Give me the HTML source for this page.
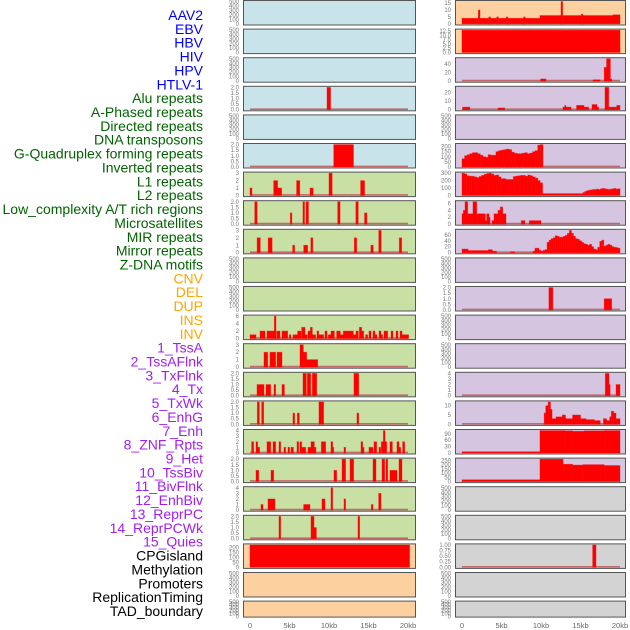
<!DOCTYPE html>
<html><head><meta charset="utf-8"><style>
html,body{margin:0;padding:0;background:#fff;}
svg{display:block;font-family:"Liberation Sans",sans-serif;}
</style></head><body>
<svg id="chart" width="630" height="630" viewBox="0 0 630 630" xmlns="http://www.w3.org/2000/svg"></svg>
<script>
// ---- track labels ----
const labelNames = ["AAV2","EBV","HBV","HIV","HPV","HTLV-1","Alu repeats","A-Phased repeats","Directed repeats","DNA transposons","G-Quadruplex forming repeats","Inverted repeats","L1 repeats","L2 repeats","Low_complexity A/T rich regions","Microsatellites","MIR repeats","Mirror repeats","Z-DNA motifs","CNV","DEL","DUP","INS","INV","1_TssA","2_TssAFlnk","3_TxFlnk","4_Tx","5_TxWk","6_EnhG","7_Enh","8_ZNF_Rpts","9_Het","10_TssBiv","11_BivFlnk","12_EnhBiv","13_ReprPC","14_ReprPCWk","15_Quies","CPGisland","Methylation","Promoters","ReplicationTiming","TAD_boundary"];
const labelGroups = [6,13,5,15,5];
const groupColors = ["#0000ff","#006400","#ffa500","#a020f0","#000000"];
const xTickVals = [0,5,10,15,20];
const xTickLabels = ["0","5kb","10kb","15kb","20kb"];
const emptyTicks = [0,100,200,300,400,500];

// ---- panel data: segments [startKb, endKb, value] ----
const L3 = [[9.75,10.2,2]];
const L5 = [[10.6,13.1,2]];
const L6 = [[0,0.25,1],[3.0,3.5,2],[3.5,4.0,1],[5.9,6.3,2],[7.6,8.0,1],[10.0,10.4,3],[14.0,14.5,2]];
const L7 = [[0.6,0.9,2],[5.1,5.3,1],[6.7,6.9,2],[7.1,7.4,2],[11.1,11.4,2],[13.4,13.7,2],[14.5,14.8,1]];
const L8 = [[0.9,1.3,2],[2.3,2.8,2],[5.4,5.65,1],[6.8,7.3,1],[7.7,7.95,2],[13.2,13.5,2],[15.3,15.6,1],[16.3,16.6,3],[18.9,19.2,2]];
const L11 = [[0,0.76,1],[1.27,1.9,2],[2.15,3.08,2],[3.08,3.29,6],[3.38,3.8,2],[4.05,4.77,2],[4.98,5.19,1],[5.44,5.78,1],[5.78,6.03,1],[6.03,6.46,2],[6.54,6.96,3],[6.96,7.26,1],[7.34,7.64,2],[7.64,7.89,3],[7.89,8.31,1],[8.48,8.69,2],[8.69,9.32,1],[9.49,9.75,2],[9.92,10.25,1],[10.25,10.68,2],[10.97,11.43,2],[11.43,11.81,1],[11.81,13.08,2],[13.08,13.42,1],[13.42,13.71,2],[13.84,14.14,3],[14.14,14.39,2],[14.64,14.89,1],[15.06,15.32,2],[15.57,15.82,2],[15.82,16.08,1],[16.33,16.58,2],[16.58,16.79,1],[16.96,17.43,2],[17.85,18.1,2],[18.48,18.73,2],[18.99,19.24,2],[19.24,19.49,1],[19.49,20.08,1]];
const L12 = [[1.77,2.24,2],[2.53,3.25,2],[3.42,4.05,2],[6.33,6.75,3],[6.75,7.17,2],[7.17,8.57,1]];
const L13 = [[0.89,1.77,1],[2.03,2.62,1],[3.04,3.25,1],[4.05,4.35,1],[6.71,7.13,2],[7.26,7.68,2],[7.89,8.44,2],[13.16,13.76,2]];
const L14 = [[0.93,1.18,2],[1.48,1.73,2],[5.44,5.65,1],[5.99,6.24,1],[8.73,9.32,2],[13.54,13.76,1]];
const L15 = [[0.21,0.46,2],[0.76,0.97,2],[0.97,1.22,1],[2.15,2.62,2],[2.91,3.25,2],[3.67,3.88,2],[4.3,4.51,1],[4.81,5.02,1],[5.19,5.49,1],[5.95,6.16,2],[6.33,6.54,2],[6.54,7.05,1],[7.34,7.72,1],[7.72,8.14,2],[8.14,8.35,1],[9.03,9.58,2],[10.25,10.46,2],[10.46,10.6,1],[11.9,12.1,1],[14.05,14.26,2],[14.26,14.43,1],[15.06,15.57,1],[15.7,16.03,2],[16.33,16.54,1],[16.62,16.88,2],[16.88,17.09,4],[17.09,17.3,2],[17.72,18.02,2],[18.61,18.86,2],[18.86,19.07,1],[19.32,19.58,2]];
const L16 = [[0.76,1.1,1],[2.66,3.0,1],[10.63,10.97,1],[11.65,12.1,2],[12.66,13.12,2],[15.57,15.95,2],[16.71,17.05,2],[17.22,17.43,2],[17.72,18.61,1],[18.86,19.24,2]];
const L17 = [[1.39,1.65,1],[2.28,3.16,2],[6.79,7.59,1],[9.11,9.49,2],[10.25,10.46,4],[11.9,12.1,2],[15.36,15.57,1],[16.29,16.58,3]];
const L18 = [[3.67,3.88,2],[7.72,8.1,2],[8.1,8.4,1],[13.67,13.88,2]];
const L19 = [[0,20.2,225]];

const R0 = [[0,2.07,4],[2.07,2.28,10],[2.28,3.4,4],[3.4,3.6,5],[3.6,4.4,4],[4.4,4.6,5],[4.6,5.6,4],[5.6,5.8,5],[5.8,7.8,4],[7.8,8.0,5],[8.0,9.87,4],[9.87,12.53,6],[12.53,12.74,16],[12.74,15.1,6],[15.1,15.3,7],[15.3,19.1,6],[19.1,20.0,6.5]];
const R1 = [[0,20.0,13]];
const R2 = [[9.96,10.63,5],[16.58,17.47,3],[18.0,18.3,32],[18.3,18.6,52],[18.6,18.78,52],[18.78,18.95,5]];
const R3 = [[0.08,1.0,3],[4.56,5.4,2],[12.78,13.0,3],[13.0,13.16,5],[13.16,13.8,3],[14.5,15.44,5],[15.44,16.03,3],[16.46,17.09,6],[17.09,17.3,3],[18.1,18.57,26],[18.57,19.58,3],[19.58,20.0,5]];
const R5vals = [80,110,120,130,140,140,130,115,100,95,120,115,115,150,160,165,170,175,170,145,135,130,130,135,140,130,135,150,160,215,220];
const R6valsA = [300,290,265,260,258,250,240,255,270,285,295,300,290,270,275,250,225,225,215,215,215,255,260,265,270,270,260,275,265,250,235,200,170];
const R6valsB = [40,55,65,70,75,80,80,85,80,90,95,90,85,80,85,90,95,85,90];
const R7 = [[0,0.17,3],[0.17,0.38,4],[0.38,0.72,6.5],[0.72,1.39,3],[1.39,1.86,6.5],[1.86,2.95,3],[2.95,3.12,1],[3.12,3.42,3],[3.42,3.55,2],[3.8,4.05,1],[4.05,4.56,3],[4.56,4.85,4],[4.85,5.15,5],[5.15,5.57,3],[7.5,7.97,1],[8.52,10.0,1]];
const R8vals = [12,12,12,7,7,7,7,7,7,7,7,7,7,10,10,5,5,0,0,0,0,0,0,0,3,3,0,0,0,0,0,0,0,0,0,5,15,15,8,5,8,10,35,42,47,50,57,55,52,52,55,58,65,75,65,55,47,45,40,35,30,28,25,28,20,12,10,18,38,42,22,25,28,25,20,18,17,15];
const R10 = [[11.0,11.5,2],[18.0,18.95,1]];
const R13 = [[18.14,18.6,4],[18.6,18.75,2],[19.5,20.0,2]];
const R14 = [[10.4,10.6,6],[10.6,10.9,10],[10.9,11.2,12],[11.2,11.4,8],[11.4,11.9,3],[11.9,12.7,4],[12.7,13.1,5],[13.1,14.0,3],[14.0,15.0,5],[15.0,15.7,3],[15.7,16.75,2.5],[16.75,17.5,2],[17.9,18.3,3],[18.3,18.7,2],[18.7,18.9,4],[18.9,19.2,7],[19.2,19.5,6],[19.5,20.0,3]];
const R15 = [[0,9.87,5],[9.87,13.0,105],[13.0,14.0,104],[14.0,15.5,102],[15.5,18.0,104],[18.0,20.0,105]];
const R16 = [[0,9.87,20],[9.87,12.8,265],[12.8,14.0,205],[14.0,15.3,195],[15.3,18.0,200],[18.0,20.0,190]];
const R19 = [[16.54,16.96,1]];

function bins(vals, s, e){
  const w=(e-s)/vals.length; const out=[];
  vals.forEach((v,i)=>out.push([s+i*w, s+(i+1)*w, v]));
  return out;
}
const R5 = bins(R5vals,0,10.25);
const R6 = bins(R6valsA,0,10.2).concat([[10.2,15.3,25]]).concat(bins(R6valsB,15.3,20.0));
const R8 = bins(R8vals,0,20.0);

const BLUE="#c8e3ea", GREEN="#c8e0a4", PEACH="#fdd09f", PURPLE="#d5c5e0", GREY="#d3d3d3";
const panels = [
 ["L",0,BLUE,[],500,emptyTicks,0,false],["L",1,BLUE,[],500,emptyTicks,0,false],["L",2,BLUE,[],500,emptyTicks,0,false],
 ["L",3,BLUE,L3,2,[0,0.5,1,1.5,2],1,true],["L",4,BLUE,[],500,emptyTicks,0,false],["L",5,BLUE,L5,2,[0,0.5,1,1.5,2],1,true],
 ["L",6,GREEN,L6,3,[0,1,2,3],0,true],["L",7,GREEN,L7,2,[0,0.5,1,1.5,2],1,true],["L",8,GREEN,L8,3,[0,1,2,3],0,true],
 ["L",9,GREEN,[],500,emptyTicks,0,false],["L",10,GREEN,[],500,emptyTicks,0,false],["L",11,GREEN,L11,6,[0,2,4,6],0,true],
 ["L",12,GREEN,L12,3,[0,1,2,3],0,true],["L",13,GREEN,L13,2,[0,0.5,1,1.5,2],1,true],["L",14,GREEN,L14,2,[0,0.5,1,1.5,2],1,true],
 ["L",15,GREEN,L15,4,[0,1,2,3,4],0,true],["L",16,GREEN,L16,2,[0,0.5,1,1.5,2],1,true],["L",17,GREEN,L17,4,[0,1,2,3,4],0,true],
 ["L",18,GREEN,L18,2,[0,0.5,1,1.5,2],1,true],["L",19,PEACH,L19,225,[0,50,100,150,200],0,false],
 ["L",20,PEACH,[],500,emptyTicks,0,false],["L",21,PEACH,[],500,emptyTicks,0,false],
 ["R",0,PEACH,R0,16,[0,5,10,15],0,false],["R",1,PEACH,R1,13,[0,2.5,5,7.5,10,12.5],1,false],
 ["R",2,PURPLE,R2,52,[0,20,40],0,true],["R",3,PURPLE,R3,26,[0,10,20],0,true],["R",4,PURPLE,[],500,emptyTicks,0,false],
 ["R",5,PURPLE,R5,220,[0,50,100,150,200],0,true],["R",6,PURPLE,R6,300,[0,100,200,300],0,false],
 ["R",7,PURPLE,R7,6.5,[0,2,4,6],0,true],["R",8,PURPLE,R8,75,[0,20,40,60],0,true],["R",9,PURPLE,[],500,emptyTicks,0,false],
 ["R",10,PURPLE,R10,2,[0,0.5,1,1.5,2],1,true],["R",11,PURPLE,[],500,emptyTicks,0,false],["R",12,PURPLE,[],500,emptyTicks,0,false],
 ["R",13,PURPLE,R13,4,[0,1,2,3,4],0,true],["R",14,PURPLE,R14,12,[0,5,10],0,true],["R",15,PURPLE,R15,105,[0,30,60,90],0,true],
 ["R",16,PURPLE,R16,265,[0,50,100,150,200,250],0,true],["R",17,GREY,[],500,emptyTicks,0,false],["R",18,GREY,[],500,emptyTicks,0,false],
 ["R",19,GREY,R19,1,[0,0.25,0.5,0.75,1],2,true],["R",20,GREY,[],500,emptyTicks,0,false],["R",21,GREY,[],500,emptyTicks,0,false]
];

const NS="http://www.w3.org/2000/svg";
const svg=document.getElementById("chart");
function mk(tag,attrs,parent){const e=document.createElementNS(NS,tag);for(const k in attrs)e.setAttribute(k,attrs[k]);(parent||svg).appendChild(e);return e;}

let li=0;
labelGroups.forEach((n,g)=>{
  for(let j=0;j<n;j++){
    const t=mk("text",{x:203,y:15+li*13.86,"text-anchor":"end","dominant-baseline":"central","font-size":"14",fill:groupColors[g]});
    t.textContent=labelNames[li];
    
    
    li++;
  }
});

const geom={L:{x0:243,x1:416,z:250,t:408,tx:239},R:{x0:455,x1:626,z:462,t:620,tx:451}};
panels.forEach(p=>{
  const [side,row,bg,segs,ymax,ticks,fmt,base]=p;
  const gm=geom[side];
  const top=row*28.6+0.5, h=row===21?16:24.5, bot=top+h;
  const xs=kb=>gm.z+(gm.t-gm.z)*kb/20;
  const lo=-0.05*ymax, hi=1.05*ymax;
  const ys=v=>top+h*(hi-v)/(hi-lo);
  const g=mk("g",{});
  
  
  const r=mk("rect",{x:gm.x0,y:top,width:gm.x1-gm.x0,height:h,fill:bg},g);
  
  
  if(base){
    const bl=mk("line",{x1:xs(0),x2:xs(20),y1:ys(0)-0.5,y2:ys(0)-0.5,stroke:"#c26a6a","stroke-width":"1.6"},g);
    
    
  }
  segs.forEach(s=>{
    if(s[2]<=0) return;
    const y=Math.max(top,ys(s[2]));
    const b=mk("rect",{x:xs(s[0]),y:y,width:Math.max(0.8,xs(s[1])-xs(s[0])),height:Math.min(bot,ys(0))-y,fill:"#ff0000",stroke:"rgba(255,0,0,0.45)","stroke-width":"0.8"},g);
    
    
  });
  const fr=mk("rect",{x:gm.x0+0.5,y:top,width:gm.x1-gm.x0-1,height:h,fill:"none",stroke:"#555","stroke-width":"1"},g);
  
  
  ticks.forEach(tv=>{
    const t=mk("text",{x:gm.tx,y:ys(tv)+2,"text-anchor":"end","font-size":"6",fill:"#777"},g);
    t.textContent=fmt?tv.toFixed(fmt):String(tv);
    
    
  });
});
["L","R"].forEach(side=>{
  const gm=geom[side];
  xTickVals.forEach((v,i)=>{
    const t=mk("text",{x:gm.z+(gm.t-gm.z)*v/20,y:628,"text-anchor":"middle","font-size":"7.5",fill:"#666"});
    t.textContent=xTickLabels[i];
    
    
  });
});
</script>
</body></html>
